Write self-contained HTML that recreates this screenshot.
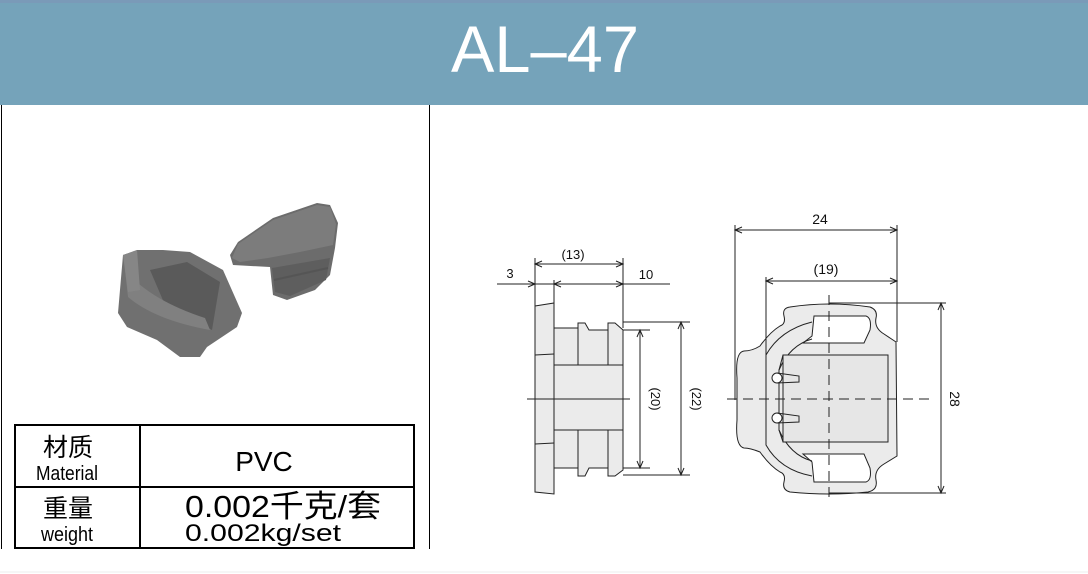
<!DOCTYPE html>
<html><head><meta charset="utf-8"><style>
html,body{margin:0;padding:0;background:#fff;width:1088px;height:574px;overflow:hidden}
svg{display:block}
</style></head><body>
<svg width="1088" height="574" viewBox="0 0 1088 574" xmlns="http://www.w3.org/2000/svg">
<rect x="0" y="0" width="1088" height="105" fill="#75a3ba"/>
<rect x="0" y="0" width="1088" height="3" fill="#7a9ab8"/>
<text x="545" y="72" font-family="Liberation Sans, sans-serif" font-size="66" fill="#fff" text-anchor="middle" textLength="188" lengthAdjust="spacingAndGlyphs">AL–47</text>
<line x1="429.5" y1="105" x2="429.5" y2="549" stroke="#000" stroke-width="1"/>
<line x1="1.5" y1="105" x2="1.5" y2="549" stroke="#000" stroke-width="1"/>

<!-- photo -->
<g>
<polygon points="230,255 238,242 273,218 317,203 330,205 338,223 335,248 330,275 315,290 287,300 273,295 270,267 233,265" fill="#6c6c6c"/>
<polygon points="232,258 238,244 273,220 317,205 330,207 336,224 333,245 300,252 268,258 240,262" fill="#7c7c7c"/>
<polygon points="272,268 330,258 326,280 290,296 275,292" fill="#5e5e5e"/>
<line x1="274" y1="280" x2="328" y2="268" stroke="#555" stroke-width="2"/>
<polygon points="118,313 123,255 137,250 163,250 190,252 223,270 242,313 237,327 207,347 200,357 180,357 157,340 127,327" fill="#707070"/>
<polygon points="150,270 187,262 220,282 212,330 165,305" fill="#5a5a5a"/>
<path d="M125,270 Q150,300 205,318 L210,330 Q155,320 128,297 Z" fill="#808080"/>
<polygon points="123,255 137,250 140,290 128,292" fill="#868686"/>
</g>

<!-- table -->
<g stroke="#000" stroke-width="2" fill="none">
<rect x="15" y="425" width="399" height="123"/>
<line x1="15" y1="487" x2="414" y2="487"/>
<line x1="140" y1="425" x2="140" y2="548"/>
</g>
<g font-family="Liberation Sans, 'Noto Sans CJK SC', sans-serif" fill="#000" text-anchor="middle">
<text x="68" y="456" font-size="25">材质</text>
<text x="67" y="480" font-size="20" textLength="62" lengthAdjust="spacingAndGlyphs">Material</text>
<text x="264" y="471" font-size="28">PVC</text>
<text x="68" y="517" font-size="25">重量</text>
<text x="67" y="541" font-size="20" textLength="52" lengthAdjust="spacingAndGlyphs">weight</text>
<text x="283" y="517" font-size="31" textLength="196" lengthAdjust="spacingAndGlyphs">0.002千克/套</text>
<text x="263" y="541" font-size="24" textLength="156" lengthAdjust="spacingAndGlyphs">0.002kg/set</text>
</g>

<!-- side view -->
<g stroke="#222" stroke-width="1" fill="#ebebeb">
<path d="M535,306 L554,303 L554,494 L535,492 Z"/>
<path d="M554,328 L578,328 L578,323 L585,323 L589,330 L608,330 L608,323 L615,323 L623,330 L623,470 L615,476 L608,476 L608,468 L589,468 L585,476 L578,476 L578,468 L554,468 Z"/>
</g>
<g stroke="#222" stroke-width="1" fill="none">
<line x1="554" y1="365" x2="623" y2="365"/>
<line x1="554" y1="430" x2="623" y2="430"/>
<line x1="578" y1="328" x2="578" y2="365"/><line x1="608" y1="330" x2="608" y2="365"/>
<line x1="578" y1="430" x2="578" y2="468"/><line x1="608" y1="430" x2="608" y2="468"/>
<line x1="535" y1="355" x2="554" y2="354"/><line x1="535" y1="444" x2="554" y2="443"/>
<line x1="527" y1="399" x2="630" y2="399"/>
<line x1="535" y1="258" x2="535" y2="306"/>
<line x1="554" y1="280" x2="554" y2="303"/>
<line x1="623" y1="258" x2="623" y2="328"/>
<line x1="535" y1="264" x2="623" y2="264"/>
<line x1="497" y1="284" x2="670" y2="284"/>
<line x1="623" y1="322" x2="690" y2="322"/>
<line x1="623" y1="475" x2="690" y2="475"/>
<line x1="640" y1="330" x2="640" y2="468"/>
<line x1="681" y1="322" x2="681" y2="475"/>
<line x1="623" y1="330" x2="650" y2="330"/>
<line x1="623" y1="468" x2="650" y2="468"/>
<path d="M542,261 L535,264 L542,267 M616,261 L623,264 L616,267 M528,281 L535,284 L528,287 M561,281 L554,284 L561,287 M616,281 L623,284 L616,287 M637,337 L640,330 L643,337 M637,461 L640,468 L643,461 M678,329 L681,322 L684,329 M678,468 L681,475 L684,468"/>
</g>
<g font-family="Liberation Sans, sans-serif" font-size="13" fill="#111" text-anchor="middle">
<text x="573" y="259">(13)</text>
<text x="510" y="278">3</text>
<text x="646" y="279">10</text>
<text transform="translate(651,399) rotate(90)">(20)</text>
<text transform="translate(692,399) rotate(90)">(22)</text>
</g>

<!-- front view -->
<g stroke="#222" stroke-width="1" fill="#ebebeb">
<path d="M790,307 Q829,301 870,307 Q878,310 876,318 Q874,328 884,334 L896,342 L897,456 L884,464 Q874,470 876,480 Q878,490 868,492 Q829,496 790,492 Q782,490 784,482 Q786,474 780,472 Q770,466 760,452 Q750,448 744,448 Q735,446 737,420 L737,378 Q735,352 744,351 Q752,351 760,346 Q770,332 780,326 Q786,324 784,316 Q782,308 790,307 Z"/>
</g>
<g stroke="#222" stroke-width="1" fill="#fff">
<path d="M814,316 L866,316 Q872,318 870,330 L864,343 L803,343 L812,336 Z"/>
<path d="M803,454 L864,454 L870,468 Q872,480 866,482 L814,482 L812,462 Z"/>
</g>
<g stroke="#222" stroke-width="1" fill="none">
<path d="M812,322 Q780,330 766,355 L766,445 Q780,470 812,476"/>
<path d="M812,339 Q790,345 779,370 L779,430 Q790,455 812,461"/>
<rect x="783" y="355" width="105" height="87" fill="#e6e6e6"/>
<path d="M779,370 L783,355 M779,430 L783,442"/>
<circle cx="777" cy="378" r="5" fill="#fff"/>
<circle cx="777" cy="418" r="5" fill="#fff"/>
<path d="M777,373 L799,376 L799,382 L777,383 M777,413 L799,416 L799,422 L777,423"/>
<line x1="727" y1="399" x2="935" y2="399" stroke-dasharray="10,6"/>
<line x1="829" y1="295" x2="829" y2="500" stroke-dasharray="10,6"/>
<line x1="735" y1="225" x2="735" y2="400"/>
<line x1="897" y1="225" x2="897" y2="342"/>
<line x1="735" y1="230" x2="897" y2="230"/>
<line x1="766" y1="277" x2="766" y2="356"/>
<line x1="766" y1="281" x2="897" y2="281"/>
<line x1="829" y1="303" x2="946" y2="303"/>
<line x1="829" y1="493" x2="946" y2="493"/>
<line x1="941" y1="303" x2="941" y2="493"/>
<path d="M742,227 L735,230 L742,233 M890,227 L897,230 L890,233 M773,278 L766,281 L773,284 M890,278 L897,281 L890,284 M938,310 L941,303 L944,310 M938,486 L941,493 L944,486"/>
</g>
<g font-family="Liberation Sans, sans-serif" font-size="14" fill="#111" text-anchor="middle">
<text x="820" y="224">24</text>
<text x="826" y="274">(19)</text>
<text transform="translate(950,399) rotate(90)">28</text>
</g>
<line x1="0" y1="572" x2="1088" y2="572" stroke="#eee"/>
</svg>
</body></html>
